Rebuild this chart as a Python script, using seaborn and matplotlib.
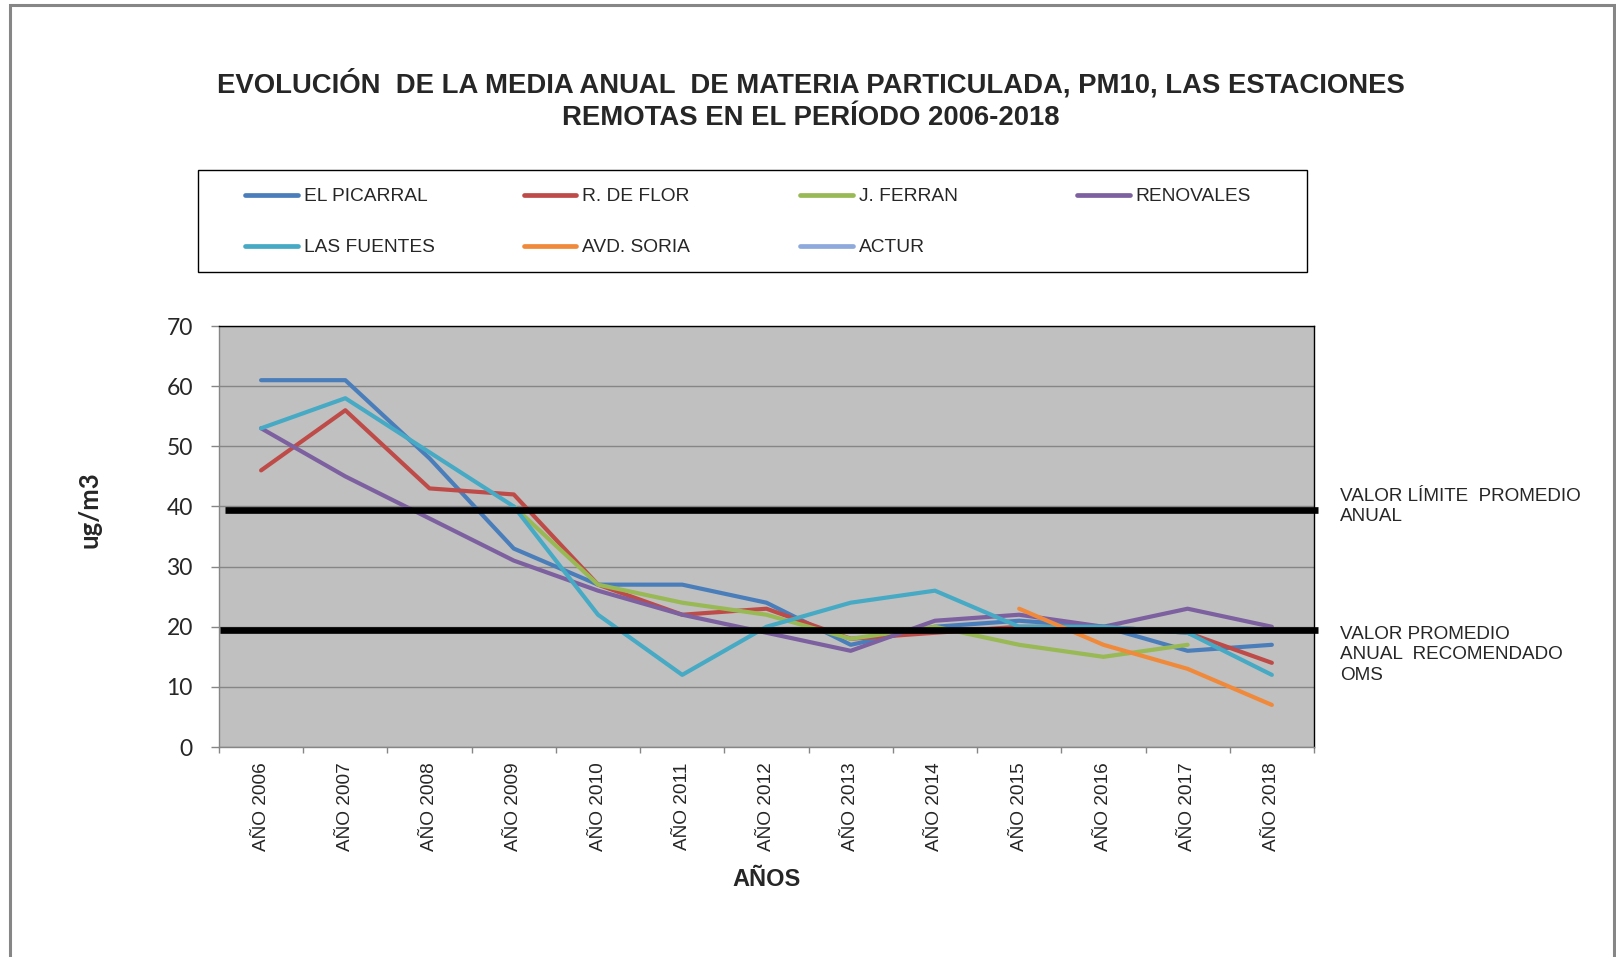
import numpy as np
import pandas as pd
import matplotlib
matplotlib.use('Agg')
import matplotlib.pyplot as plt
from matplotlib.lines import Line2D
from matplotlib.patches import Rectangle
import seaborn as sns

# Datos (ug/m3)
years = ['AÑO 2006', 'AÑO 2007', 'AÑO 2008', 'AÑO 2009', 'AÑO 2010', 'AÑO 2011', 'AÑO 2012',
         'AÑO 2013', 'AÑO 2014', 'AÑO 2015', 'AÑO 2016', 'AÑO 2017', 'AÑO 2018']
el_picarral = [61, 61, 48, 33, 27, 27, 24, 17, 20, 21, 20, 16, 17]
r_de_flor = [46, 56, 43, 42, 27, 22, 23, 18, 19, 20, 20, 19, 14]
j_ferran = [None, None, None, 40, 27, 24, 22, 18, 20, 17, 15, 17, None]
renovales = [53, 45, 38, 31, 26, 22, 19, 16, 21, 22, 20, 23, 20]
las_fuentes = [53, 58, 49, 40, 22, 12, 20, 24, 26, 20, 20, 19, 12]
avd_soria = [None, None, None, None, None, None, None, None, None, 23, 17, 13, 7]
actur = [None] * 13

limite_anual = 39.4   # línea "valor límite promedio anual"
oms_anual = 19.4      # línea "valor recomendado OMS"

stations = ['EL PICARRAL', 'R. DE FLOR', 'J. FERRAN', 'RENOVALES', 'LAS FUENTES', 'AVD. SORIA', 'ACTUR']
series = [el_picarral, r_de_flor, j_ferran, renovales, las_fuentes, avd_soria, actur]
colors = ['#4A7EBB', '#BE4B48', '#98B954', '#7D60A0', '#46AAC5', '#F08A3A', '#8EA9DB']

df = pd.DataFrame({'pos': np.tile(np.arange(len(years)), len(stations)),
                   'station': np.repeat(stations, len(years)),
                   'value': np.array(sum(series, []), dtype=float)})

sns.set_style('white')
plt.rcParams['font.family'] = ['Liberation Sans', 'DejaVu Sans']

fig = plt.figure(figsize=(16.16, 9.57), dpi=100)
ax = fig.add_axes([0.1355, 0.2194, 0.6776, 0.4399])
ax.set_facecolor('#C0C0C0')

for name, col in zip(stations, colors):
    sub = df[df['station'] == name].dropna()
    if len(sub):
        sns.lineplot(data=sub, x='pos', y='value', color=col, linewidth=3.0, ax=ax,
                     legend=False, solid_capstyle='round')

ax.axhline(limite_anual, xmin=0.0055, xmax=1.0037, color='black', lw=4.8, clip_on=False,
           zorder=5, solid_capstyle='butt')
ax.axhline(oms_anual, xmin=0.001, xmax=1.0037, color='black', lw=4.8, clip_on=False,
           zorder=5, solid_capstyle='butt')

ax.set_xlim(-0.5, len(years) - 0.5)
ax.set_ylim(0, 70)
ax.set_yticks(range(0, 71, 10))
ax.yaxis.grid(True, color='#868686', lw=1.0)
ax.xaxis.grid(False)
ax.set_axisbelow(True)

ax.set_xticks(range(len(years)))
ax.set_xticklabels(years, rotation=90, fontsize=13.7)
ax.set_xticks(np.arange(-0.5, len(years)), minor=True)
ax.tick_params(axis='x', which='major', length=0, pad=11)
ax.tick_params(axis='x', which='minor', length=4.5, width=1, color='#868686', direction='out', bottom=True)
ax.tick_params(axis='y', length=5.8, width=1, color='#868686', direction='out', left=True, pad=13)
for lab in ax.get_yticklabels():
    lab.set_fontfamily(['Lato', 'DejaVu Sans'])
    lab.set_fontsize(16.5)

ax.spines['left'].set_color('#868686')
ax.spines['bottom'].set_color('#868686')
ax.spines['top'].set_color('black')
ax.spines['right'].set_color('black')
for s in ax.spines.values():
    s.set_linewidth(1.0)

ax.set_xlabel('AÑOS', fontsize=17, fontweight='bold', labelpad=12)
ax.set_ylabel('')
fig.text(0.0555, 0.467, 'ug/m3', rotation=90, ha='center', va='center',
         fontsize=18.5, fontweight='bold', family=['Lato', 'DejaVu Sans'])

fig.text(0.502, 0.8955,
         'EVOLUCIÓN  DE LA MEDIA ANUAL  DE MATERIA PARTICULADA, PM10, LAS ESTACIONES\n'
         'REMOTAS EN EL PERÍODO 2006-2018',
         ha='center', va='center', fontsize=19.8, fontweight='bold', linespacing=1.29)

fig.text(0.8292, 1 - 488 / 957, 'VALOR LÍMITE  PROMEDIO\nANUAL', ha='left', va='top',
         fontsize=13.6, linespacing=1.25)
fig.text(0.8292, 1 - 626 / 957, 'VALOR PROMEDIO\nANUAL  RECOMENDADO\nOMS', ha='left', va='top',
         fontsize=13.6, linespacing=1.25)

# Leyenda: una columna por bloque, con el mismo paso entre columnas que en el original
fig.patches.append(Rectangle((198 / 1616, 1 - 272 / 957), 1109 / 1616, 102 / 957,
                             transform=fig.transFigure, fill=False, edgecolor='black', lw=1.0))
legend_cols = [[0, 4], [1, 5], [2, 6], [3]]
col_x = [245, 523.5, 800, 1077]
for idx, x0 in zip(legend_cols, col_x):
    handles = [Line2D([], [], color=colors[i], lw=3.4, solid_capstyle='round') for i in idx]
    labels = [stations[i] for i in idx]
    fig.legend(handles, labels, ncol=1, frameon=False, fontsize=13.8,
               loc='upper left', bbox_to_anchor=(x0 / 1616, 1 - 188 / 957),
               borderaxespad=0, borderpad=0, handlelength=2.76, handletextpad=0.3,
               labelspacing=1.75)

# Marco del gráfico
fig.patches.append(Rectangle((10 / 1616, -0.05), 1604 / 1616, 1.05 - 5 / 957,
                             transform=fig.transFigure, fill=False, edgecolor='#868686', lw=2.2))

fig.savefig('out.png', dpi=100)
